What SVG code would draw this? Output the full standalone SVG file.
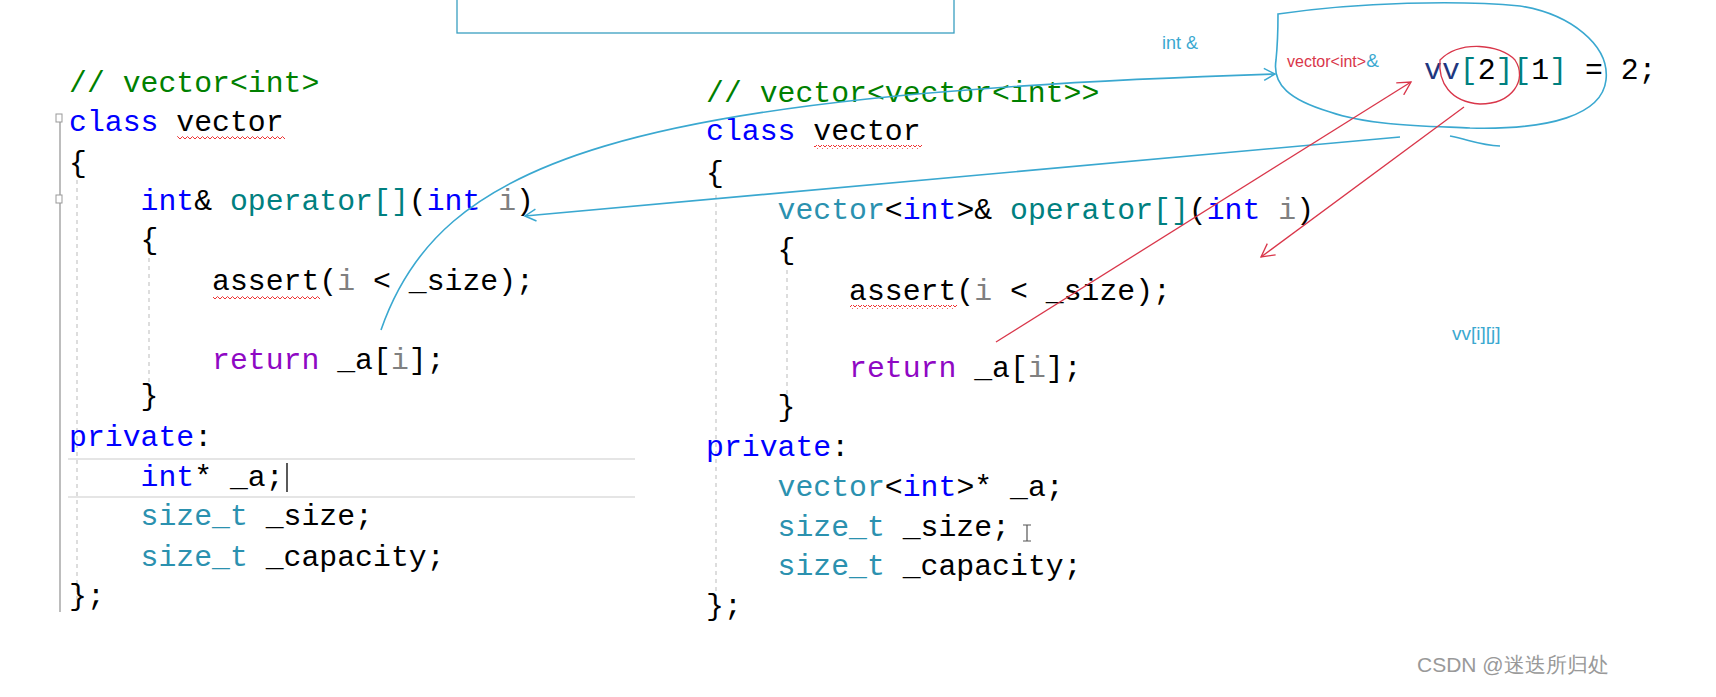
<svg xmlns="http://www.w3.org/2000/svg" width="1716" height="697" viewBox="0 0 1716 697">
<style>
.c{font-family:"Liberation Mono","DejaVu Sans Mono",monospace;font-size:29.8px;fill:#000;white-space:pre}
.cm{fill:#008000}.kw{fill:#0000ff}.ty{fill:#2b91af}.op{fill:#008080}.pv{fill:#808080}.rt{fill:#8f08c4}.vv{fill:#1f377f}
.ink{fill:none;stroke:#3aa8d0;stroke-width:1.6}
.red{fill:none;stroke:#d9364a;stroke-width:1.3}
.gut{stroke:#bbb;stroke-width:1;stroke-dasharray:4 4}
.hand{font-family:"Liberation Sans",Arial,sans-serif}
</style>
<defs>
<pattern id="sq" width="5" height="4" patternUnits="userSpaceOnUse"><path d="M0,3 L2.5,0.5 L5,3" fill="none" stroke="#e33" stroke-width="1"/></pattern>
<marker id="ab" markerWidth="14" markerHeight="14" refX="12" refY="7" orient="auto" markerUnits="userSpaceOnUse"><path d="M1,1 L12,7 L1,13" fill="none" stroke="#3aa8d0" stroke-width="1.5"/></marker>
<marker id="ar" markerWidth="16" markerHeight="16" refX="14" refY="8" orient="auto" markerUnits="userSpaceOnUse"><path d="M1,1 L14,8 L1,15" fill="none" stroke="#d9364a" stroke-width="1.3"/></marker>
</defs>
<rect width="1716" height="697" fill="#fff"/>
<rect x="457" y="-2" width="497" height="35" fill="none" stroke="#3a9fc0" stroke-width="1.3"/>

<g id="left-code">
<line x1="60" y1="118" x2="60" y2="612" stroke="#999" stroke-width="1.3"/>
<line x1="77" y1="180" x2="77" y2="600" class="gut"/>
<line x1="149" y1="258" x2="149" y2="400" class="gut"/>
<rect x="56" y="114" width="6" height="8" fill="#fff" stroke="#999"/>
<rect x="56" y="195" width="6" height="8" fill="#fff" stroke="#999"/>
<path d="M68,459 H635 M68,497 H635" stroke="#ddd" stroke-width="1.5"/>
<text class="c" x="69" y="92"><tspan class="cm">// vector&lt;int&gt;</tspan></text>
<text class="c" x="69" y="131"><tspan class="kw">class</tspan> vector</text>
<rect x="177" y="136" width="108" height="4" fill="url(#sq)"/>
<text class="c" x="69" y="172">{</text>
<text class="c" x="69" y="210">    <tspan class="kw">int</tspan>&amp; <tspan class="op">operator[]</tspan>(<tspan class="kw">int</tspan> <tspan class="pv">i</tspan>)</text>
<text class="c" x="69" y="249">    {</text>
<text class="c" x="69" y="290">        assert(<tspan class="pv">i</tspan> &lt; _size);</text>
<rect x="213" y="295" width="107" height="4" fill="url(#sq)"/>
<text class="c" x="69" y="369">        <tspan class="rt">return</tspan> _a[<tspan class="pv">i</tspan>];</text>
<text class="c" x="69" y="405">    }</text>
<text class="c" x="69" y="446"><tspan class="kw">private</tspan>:</text>
<text class="c" x="69" y="486">    <tspan class="kw">int</tspan>* _a;</text>
<line x1="287" y1="463" x2="287" y2="492" stroke="#000" stroke-width="1.3"/>
<text class="c" x="69" y="525">    <tspan class="ty">size_t</tspan> _size;</text>
<text class="c" x="69" y="566">    <tspan class="ty">size_t</tspan> _capacity;</text>
<text class="c" x="69" y="605">};</text>
</g>

<g id="right-code">
<line x1="716" y1="195" x2="716" y2="600" class="gut"/>
<line x1="787" y1="270" x2="787" y2="410" class="gut"/>
<text class="c" x="706" y="102"><tspan class="cm">// vector&lt;vector&lt;int&gt;&gt;</tspan></text>
<text class="c" x="706" y="140"><tspan class="kw">class</tspan> vector</text>
<rect x="814" y="145" width="108" height="4" fill="url(#sq)"/>
<text class="c" x="706" y="182">{</text>
<text class="c" x="706" y="219">    <tspan class="ty">vector</tspan>&lt;<tspan class="kw">int</tspan>&gt;&amp; <tspan class="op">operator[]</tspan>(<tspan class="kw">int</tspan> <tspan class="pv">i</tspan>)</text>
<text class="c" x="706" y="259">    {</text>
<text class="c" x="706" y="300">        assert(<tspan class="pv">i</tspan> &lt; _size);</text>
<rect x="850" y="305" width="107" height="4" fill="url(#sq)"/>
<text class="c" x="706" y="377">        <tspan class="rt">return</tspan> _a[<tspan class="pv">i</tspan>];</text>
<text class="c" x="706" y="416">    }</text>
<text class="c" x="706" y="456"><tspan class="kw">private</tspan>:</text>
<text class="c" x="706" y="496">    <tspan class="ty">vector</tspan>&lt;<tspan class="kw">int</tspan>&gt;* _a;</text>
<text class="c" x="706" y="536">    <tspan class="ty">size_t</tspan> _size;</text>
<path d="M1023,525 h8 M1027,525 v16 M1023,541 h8" stroke="#555" stroke-width="1.2" fill="none"/>
<text class="c" x="706" y="575">    <tspan class="ty">size_t</tspan> _capacity;</text>
<text class="c" x="706" y="615">};</text>
</g>

<g id="expr">
<text class="c" x="1424" y="79"><tspan class="vv">vv</tspan><tspan class="op">[</tspan>2<tspan class="op">][</tspan>1<tspan class="op">]</tspan> = 2;</text>
<text class="hand" x="1287" y="67" font-size="16" fill="#d9364a">vector&lt;int&gt;<tspan fill="#3aa8d0" font-size="19">&amp;</tspan></text>
<text class="hand" x="1162" y="49" font-size="18" fill="#3aa8d0">int &amp;</text>
<text class="hand" x="1452" y="340" font-size="19" fill="#3aa8d0">vv[i][j]</text>
</g>

<g id="connectors">
<path class="ink" d="M1278,14 C1360,2 1460,0 1520,6 C1570,14 1610,45 1606,80 C1602,115 1550,130 1470,128 C1430,126 1370,126 1330,112 C1290,100 1272,85 1276,60 C1278,40 1278,25 1278,14 Z"/>
<path class="ink" d="M1450,136 C1470,140 1480,145 1500,146"/>
<path class="red" d="M1440,60 C1460,40 1500,44 1515,60 C1528,80 1512,104 1480,104 C1450,102 1438,82 1440,60 Z"/>
<path class="ink" d="M381,330 C440,160 620,95 1275,74" marker-end="url(#ab)"/>
<path class="ink" d="M1400,137 L525,216" marker-end="url(#ab)"/>
<path class="red" d="M996,342 L1411,82" marker-end="url(#ar)"/>
<path class="red" d="M1464,107 L1261,257" marker-end="url(#ar)"/>
</g>

<text class="hand" x="1417" y="672" font-size="21" fill="#999" font-family="'Liberation Sans','Noto Sans CJK SC',sans-serif">CSDN @迷迭所归处</text>
</svg>
